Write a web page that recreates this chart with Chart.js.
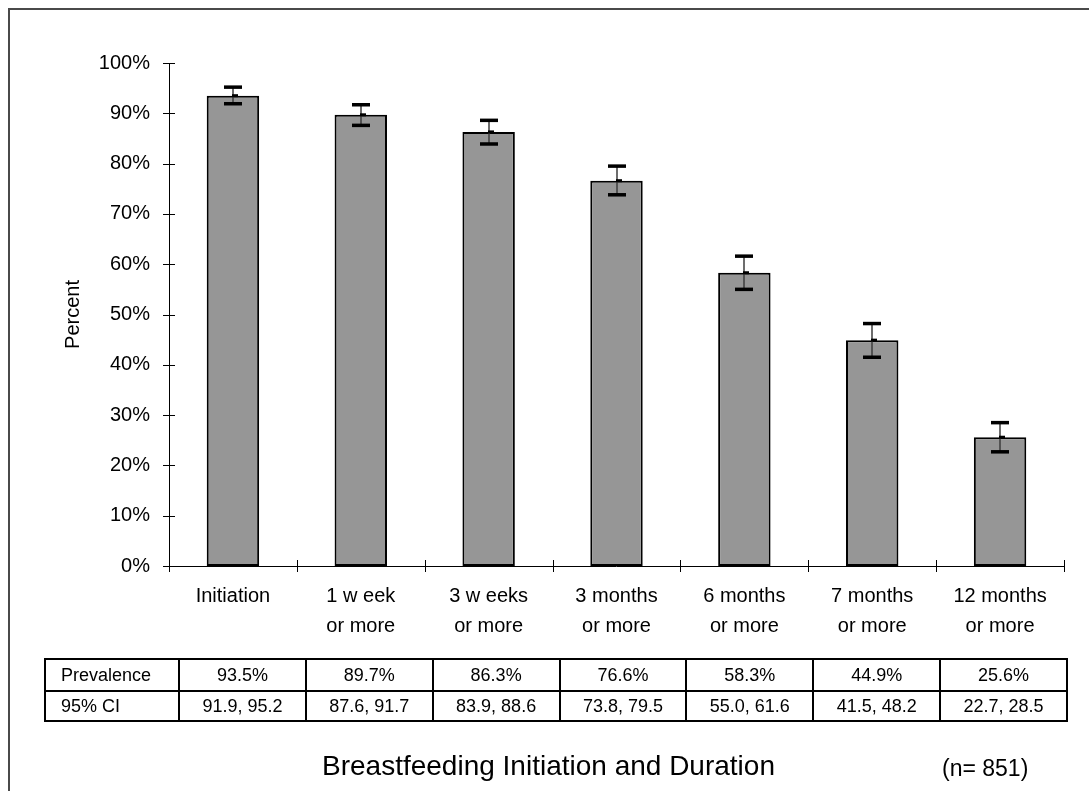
<!DOCTYPE html>
<html>
<head>
<meta charset="utf-8">
<script src="https://cdn.jsdelivr.net/npm/chart.js@4.4.1/dist/chart.umd.min.js"></script>
<style>
  html, body { margin:0; padding:0; background:#fff; width:1089px; height:791px; overflow:hidden; }
  body { position:relative; font-family:"Liberation Sans", Arial, sans-serif; color:#000; }
  #frame { position:absolute; left:8px; top:8px; width:1300px; height:1000px;
           border-left:2px solid #4a4a4a; border-top:2px solid #4a4a4a; }
  #c { position:absolute; left:0; top:0; }
  .cell { position:absolute; box-sizing:border-box; border:2px solid #000; font-size:18px;
          display:flex; align-items:center; justify-content:center; white-space:nowrap; }
  .cell.head { justify-content:flex-start; padding-left:15px; }
  #title { position:absolute; left:322px; top:752px; font-size:28px; line-height:28px; white-space:nowrap; }
  #nlab { position:absolute; left:942px; top:757px; font-size:23px; line-height:23px; white-space:nowrap; }
</style>
</head>
<body>
<div id="frame"></div>
<canvas id="c" width="1089" height="791"></canvas>
<div id="table"></div>
<div id="title">Breastfeeding Initiation and Duration</div>
<div id="nlab">(n= 851)</div>
<script>
// ---- data ----
const categories = [
  'Initiation',
  ['1 w eek', 'or more'],
  ['3 w eeks', 'or more'],
  ['3 months', 'or more'],
  ['6 months', 'or more'],
  ['7 months', 'or more'],
  ['12 months', 'or more']
];
const prevalence = [93.5, 89.7, 86.3, 76.6, 58.3, 44.9, 25.6];
const ciLow  = [91.9, 87.6, 83.9, 73.8, 55.0, 41.5, 22.7];
const ciHigh = [95.2, 91.7, 88.6, 79.5, 61.6, 48.2, 28.5];
const yTickLabels = ['0%','10%','20%','30%','40%','50%','60%','70%','80%','90%','100%'];
const rowLabels = ['Prevalence', '95% CI'];

const FONT = '"Liberation Sans", Arial, sans-serif';

// ---- table below chart ----
(function buildTable(){
  const host = document.getElementById('table');
  const colEdges = [45, 179];
  for (let k = 1; k <= 7; k++) colEdges.push(179 + k * (1067 - 179) / 7);
  const rowEdges = [659, 691, 721];
  const rows = [
    [rowLabels[0]].concat(prevalence.map(v => v.toFixed(1) + '%')),
    [rowLabels[1]].concat(ciLow.map((l, i) => l.toFixed(1) + ', ' + ciHigh[i].toFixed(1)))
  ];
  rows.forEach((row, r) => {
    row.forEach((txt, c) => {
      const d = document.createElement('div');
      d.className = 'cell' + (c === 0 ? ' head' : '');
      d.style.left = (colEdges[c] - 1) + 'px';
      d.style.top = (rowEdges[r] - 1) + 'px';
      d.style.width = (colEdges[c + 1] - colEdges[c] + 2) + 'px';
      d.style.height = (rowEdges[r + 1] - rowEdges[r] + 2) + 'px';
      d.textContent = txt;
      host.appendChild(d);
    });
  });
})();

// ---- plugins ----
const axesPlugin = {
  id: 'excelAxes',
  afterDatasetsDraw(chart) {
    const { ctx, chartArea: a, scales: { x, y } } = chart;
    ctx.save();
    ctx.strokeStyle = '#000';
    ctx.lineWidth = 1;
    ctx.beginPath();
    // y axis line
    ctx.moveTo(Math.round(a.left) + 0.5, a.top);
    ctx.lineTo(Math.round(a.left) + 0.5, a.bottom);
    // y ticks (crossing)
    y.ticks.forEach(t => {
      const py = Math.round(y.getPixelForValue(t.value)) + 0.5;
      ctx.moveTo(a.left - 6, py);
      ctx.lineTo(a.left + 6, py);
    });
    // x axis line
    const by = Math.round(a.bottom) + 0.5;
    ctx.moveTo(a.left, by);
    ctx.lineTo(a.right, by);
    // x ticks at category boundaries
    const n = categories.length;
    for (let i = 0; i <= n; i++) {
      let px;
      if (i === 0) px = a.left;
      else if (i === n) px = a.right;
      else px = (x.getPixelForValue(i - 1) + x.getPixelForValue(i)) / 2;
      px = Math.round(px) + 0.5;
      ctx.moveTo(px, a.bottom - 6);
      ctx.lineTo(px, a.bottom + 6);
    }
    ctx.stroke();
    ctx.restore();
  }
};

const errorBars = {
  id: 'errorBars',
  afterDatasetsDraw(chart) {
    const { ctx, scales: { x, y } } = chart;
    ctx.save();
    prevalence.forEach((v, i) => {
      const cx = Math.round(x.getPixelForValue(i));
      const yh = y.getPixelForValue(ciHigh[i]);
      const yl = y.getPixelForValue(ciLow[i]);
      const yv = y.getPixelForValue(v);
      ctx.strokeStyle = '#3c3c3c';
      ctx.lineWidth = 1.5;
      ctx.beginPath();
      ctx.moveTo(cx, yh);
      ctx.lineTo(cx, yl);
      ctx.stroke();
      ctx.fillStyle = '#000';
      ctx.fillRect(cx - 9, yh - 1.75, 18, 3.5);
      ctx.fillRect(cx - 9, yl - 1.75, 18, 3.5);
      ctx.fillRect(cx - 1, yv - 1.5, 6, 3);
    });
    ctx.restore();
  }
};

new Chart(document.getElementById('c').getContext('2d'), {
  type: 'bar',
  data: {
    labels: categories,
    datasets: [{
      data: prevalence,
      backgroundColor: '#969696',
      borderColor: '#000',
      borderWidth: 2,
      borderSkipped: false,
      barPercentage: 0.41,
      categoryPercentage: 1
    }]
  },
  options: {
    responsive: false,
    animation: false,
    devicePixelRatio: 1,
    layout: { padding: { left: 0, top: 63, right: 25, bottom: 0 } },
    plugins: { legend: { display: false }, tooltip: { enabled: false }, title: { display: false } },
    scales: {
      x: {
        grid: { display: false, drawTicks: false },
        border: { display: false },
        ticks: { color: '#000', font: { family: FONT, size: 20, lineHeight: 1.5 }, padding: 15,
                 maxRotation: 0, minRotation: 0, autoSkip: false },
        afterFit(s) { s.height = 225; }
      },
      y: {
        min: 0, max: 100,
        grid: { display: false, drawTicks: false },
        border: { display: false },
        ticks: { stepSize: 10, color: '#000', font: { family: FONT, size: 20 }, padding: 19,
                 callback: (v, i) => yTickLabels[i] },
        title: { display: true, text: 'Percent', color: '#000', font: { family: FONT, size: 20 },
                 padding: { top: 61, bottom: 0 } },
        afterFit(s) { s.width = 169; }
      }
    }
  },
  plugins: [axesPlugin, errorBars]
});
</script>
</body>
</html>
